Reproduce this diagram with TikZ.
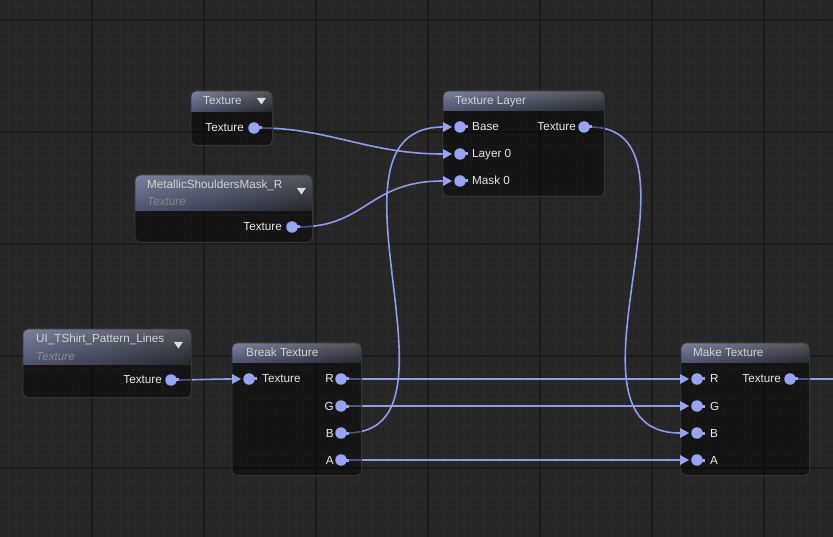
\documentclass[tikz,border=0pt]{standalone}
\usepackage{fontspec}
\setmainfont{Liberation Sans}
\usetikzlibrary{calc}

\definecolor{bgc}{HTML}{262626}
\definecolor{minorc}{HTML}{2C2C2C}
\definecolor{majorc}{HTML}{1B1B1B}
\definecolor{edgec}{HTML}{363636}
\definecolor{hdleft}{HTML}{5F6688}
\definecolor{hdright}{HTML}{2E2F37}
\definecolor{titlec}{HTML}{D2D2D2}
\definecolor{subc}{HTML}{8A8A8A}
\definecolor{lblc}{HTML}{E8E8E8}
\definecolor{dropc}{HTML}{DCDCDC}
\definecolor{pinc}{HTML}{97A4F2}
\definecolor{wirec}{HTML}{8E9CEE}

\pgfdeclarelayer{grid}
\pgfdeclarelayer{wires}
\pgfsetlayers{grid,wires,main}

\newcommand{\nodehead}[2]{%
  \begin{scope}
    \clip[rounded corners=5] (#1.north west) rectangle (#1.south east);
    \shade[left color=hdleft, right color=hdright] (#1.north west) rectangle ($(#1.north east)+(0,#2)$);
    \shade[top color=white, bottom color=black, opacity=0.18] (#1.north west) rectangle ($(#1.north east)+(0,#2)$);
  \end{scope}
  \draw[edgec, line width=0.8, rounded corners=5] (#1.north west) rectangle (#1.south east);}

\begin{document}
\fontsize{11.7}{14}\selectfont
\begin{tikzpicture}[x=1pt, y=-1pt,
    box/.style={rectangle, rounded corners=5, fill=black, fill opacity=0.45, anchor=north west, inner sep=0},
    txt/.style={inner sep=0, text height=9, text depth=1},
    title/.style={txt, anchor=west, text=titlec},
    sub/.style={txt, anchor=west, text=subc, font=\itshape},
    pin/.style={circle, fill=pinc, inner sep=0, minimum size=11.5},
    wire/.style={draw=wirec, line width=1.6}]

  \useasboundingbox (0,0) rectangle (833,537);

  \begin{pgfonlayer}{grid}
    \fill[bgc] (0,0) rectangle (833,537);
    \foreach \x in {8,22,...,833} \draw[minorc, line width=1] (\x,0) -- (\x,537);
    \foreach \y in {6,20,...,537} \draw[minorc, line width=1] (0,\y) -- (833,\y);
    \foreach \x in {92,204,...,833} \draw[majorc, line width=2] (\x,0) -- (\x,537);
    \foreach \y in {20,132,...,537} \draw[majorc, line width=2] (0,\y) -- (833,\y);
  \end{pgfonlayer}

  \node[box, minimum width=81, minimum height=54] (texnode) at (191,91) {};
  \node[box, minimum width=177, minimum height=67] (metalnode) at (135,175) {};
  \node[box, minimum width=161, minimum height=105] (layernode) at (443,91) {};
  \node[box, minimum width=168, minimum height=68] (uinode) at (23,329) {};
  \node[box, minimum width=129, minimum height=132] (breaknode) at (232,343) {};
  \node[box, minimum width=128, minimum height=132] (makenode) at (681,343) {};

  \nodehead{texnode}{21}
  \nodehead{metalnode}{36}
  \nodehead{layernode}{20}
  \nodehead{uinode}{36}
  \nodehead{breaknode}{20}
  \nodehead{makenode}{20}

  \node[title] (textitle) at (203,101) {Texture};
  \node[title] (metaltitle) at (147,185) {MetallicShouldersMask\_R};
  \node[sub] (metalsub) at (147,202) {Texture};
  \node[title] (layertitle) at (455,101) {Texture Layer};
  \node[title] (uititle) at (36,339) {UI\_TShirt\_Pattern\_Lines};
  \node[sub] (uisub) at (36,356) {Texture};
  \node[title] (breaktitle) at (246,352) {Break Texture};
  \node[title] (maketitle) at (693,352) {Make Texture};

  \fill[dropc] ($(texnode.north east)+(-15.5,7)$) -- ++(9,0) -- ++(-4.5,6.5) -- cycle;
  \fill[dropc] ($(metalnode.north east)+(-15.5,13)$) -- ++(9,0) -- ++(-4.5,6.5) -- cycle;
  \fill[dropc] ($(uinode.north east)+(-17.5,13)$) -- ++(9,0) -- ++(-4.5,6.5) -- cycle;

  \begin{scope}[every node/.style={pin}]
    \node (texout)    at (254,128) {};
    \node (metalout)  at (292,227) {};
    \node (layerout)  at (584,127) {};
    \node (uiout)     at (171,380) {};
    \node (breakR)    at (341,379) {};
    \node (breakG)    at (341,406) {};
    \node (breakB)    at (341,433) {};
    \node (breakA)    at (341,460) {};
    \node (makeout)   at (790,379) {};
    \node (layerBase) at (460,127) {};
    \node (layerL0)   at (460,154) {};
    \node (layerMask) at (460,181) {};
    \node (breakin)   at (249,379) {};
    \node (makeR)     at (697,379) {};
    \node (makeG)     at (697,406) {};
    \node (makeB)     at (697,433) {};
    \node (makeA)     at (697,460) {};
  \end{scope}

  \foreach \p in {texout,metalout,layerout,uiout,breakR,breakG,breakB,breakA,makeout,
                  layerBase,layerL0,layerMask,breakin,makeR,makeG,makeB,makeA}
    \fill[pinc] ([shift={(3,-1.5)}]\p.center) rectangle ++(5,3);
  \foreach \p in {layerBase,layerL0,layerMask,breakin,makeR,makeG,makeB,makeA}
    \fill[pinc] ([shift={(-17,-5)}]\p.center) -- ++(9,5) -- ++(-9,5) -- cycle;

  \begin{scope}[every node/.style={txt, text=lblc, anchor=east}]
    \node (texoutl)   at (244,128) {Texture};
    \node (metaloutl) at (282,227) {Texture};
    \node (layeroutl) at (576,127) {Texture};
    \node (uioutl)    at (162,380) {Texture};
    \node (breakRl)   at (334,379) {R};
    \node (breakGl)   at (334,406) {G};
    \node (breakBl)   at (334,433) {B};
    \node (breakAl)   at (334,460) {A};
    \node (makeoutl)  at (781,379) {Texture};
  \end{scope}

  \begin{scope}[every node/.style={txt, text=lblc, anchor=west}]
    \node (layerBasel) at (472,127) {Base};
    \node (layerL0l)   at (472,154) {Layer 0};
    \node (layerMaskl) at (472,181) {Mask 0};
    \node (breakinl)   at (262,379) {Texture};
    \node (makeRl)     at (710,379) {R};
    \node (makeGl)     at (710,406) {G};
    \node (makeBl)     at (710,433) {B};
    \node (makeAl)     at (710,460) {A};
  \end{scope}

  \coordinate (rimout) at (833,379);

  \begin{pgfonlayer}{wires}
    \draw[wire] (texout) .. controls +(75,0) and +(-75,0) .. ([xshift=-17]layerL0.center);
    \draw[wire] (metalout) .. controls +(75,0) and +(-75,0) .. ([xshift=-17]layerMask.center);
    \draw[wire] (uiout) .. controls +(20,0) and +(-20,0) .. ([xshift=-17]breakin.center);
    \draw[wire] (breakR) -- ([xshift=-17]makeR.center);
    \draw[wire] (breakG) -- ([xshift=-17]makeG.center);
    \draw[wire] (breakA) -- ([xshift=-17]makeA.center);
    \draw[wire] (breakB) .. controls +(135,0) and +(-135,0) .. ([xshift=-17]layerBase.center);
    \draw[wire] (layerout) .. controls +(135,0) and +(-135,0) .. ([xshift=-17]makeB.center);
    \draw[wire] (makeout) -- (rimout);
  \end{pgfonlayer}

\end{tikzpicture}
\end{document}
